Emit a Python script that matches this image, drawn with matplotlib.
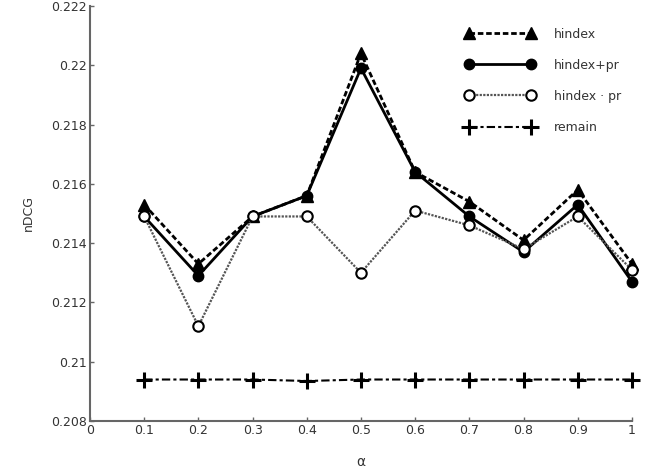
import matplotlib
matplotlib.use("Agg")
import matplotlib.pyplot as plt

alpha = [0.1, 0.2, 0.3, 0.4, 0.5, 0.6, 0.7, 0.8, 0.9, 1.0]
hindex = [0.2153, 0.2133, 0.2149, 0.2156, 0.2204, 0.2164, 0.2154, 0.2141, 0.2158, 0.2133]
hindex_plus_pr = [0.2149, 0.2129, 0.2149, 0.2156, 0.2199, 0.2164, 0.2149, 0.2137, 0.2153, 0.2127]
hindex_times_pr = [0.2149, 0.2112, 0.2149, 0.2149, 0.2130, 0.2151, 0.2146, 0.2138, 0.2149, 0.2131]
remain = [0.2094, 0.2094, 0.2094, 0.20935, 0.2094, 0.2094, 0.2094, 0.2094, 0.2094, 0.2094]

GRAY = "#666666"
TXT = "#333333"

fig = plt.figure(figsize=(6.65, 4.69), dpi=100)
ax = fig.add_axes([0.1353, 0.1023, 0.815, 0.885])

ax.plot(alpha, hindex, ls=(0, (2, 1)), lw=2, color="black", marker="^", ms=9, label="hindex",
        clip_on=False)
ax.plot(alpha, hindex_plus_pr, ls="-", lw=2, color="black", marker="o", ms=7.5, label="hindex+pr",
        clip_on=False)
ax.plot(alpha, hindex_times_pr, ls=(0, (1, 0.6)), lw=1.6, color="#555555", marker="o", ms=7.5,
        mfc="white", mec="black", mew=1.5, label="hindex · pr", clip_on=False)
ax.plot(alpha, remain, ls=(0, (4, 1.5, 1.5, 1.5)), lw=1.5, color="black", marker="+", ms=12, mew=2.2,
        label="remain", clip_on=False)

ax.set_xlim(0, 1)
ax.set_ylim(0.208, 0.222)
ax.set_xticks([0, 0.1, 0.2, 0.3, 0.4, 0.5, 0.6, 0.7, 0.8, 0.9, 1])
ax.set_xticklabels(["0", "0.1", "0.2", "0.3", "0.4", "0.5", "0.6", "0.7", "0.8", "0.9", "1"])
ax.set_yticks([0.208, 0.21, 0.212, 0.214, 0.216, 0.218, 0.22, 0.222])
ax.set_yticklabels(["0.208", "0.21", "0.212", "0.214", "0.216", "0.218", "0.22", "0.222"])
ax.tick_params(direction="in", length=3, width=1, color=GRAY, labelcolor=TXT, labelsize=9, pad=2)
for s in ("top", "right"):
    ax.spines[s].set_visible(False)
for s in ("left", "bottom"):
    ax.spines[s].set_color(GRAY)
    ax.spines[s].set_linewidth(1.5)

ax.set_ylabel("nDCG", fontsize=9, color=TXT, labelpad=12)
ax.set_xlabel("α", fontsize=10, color=TXT, labelpad=13)

leg = ax.legend(loc="upper right", bbox_to_anchor=(1.0, 0.975), frameon=False, numpoints=2,
                handlelength=5.6, labelspacing=1.45, fontsize=9, handletextpad=1.5)
for t in leg.get_texts():
    t.set_color(TXT)

fig.savefig("out.png", dpi=100)
